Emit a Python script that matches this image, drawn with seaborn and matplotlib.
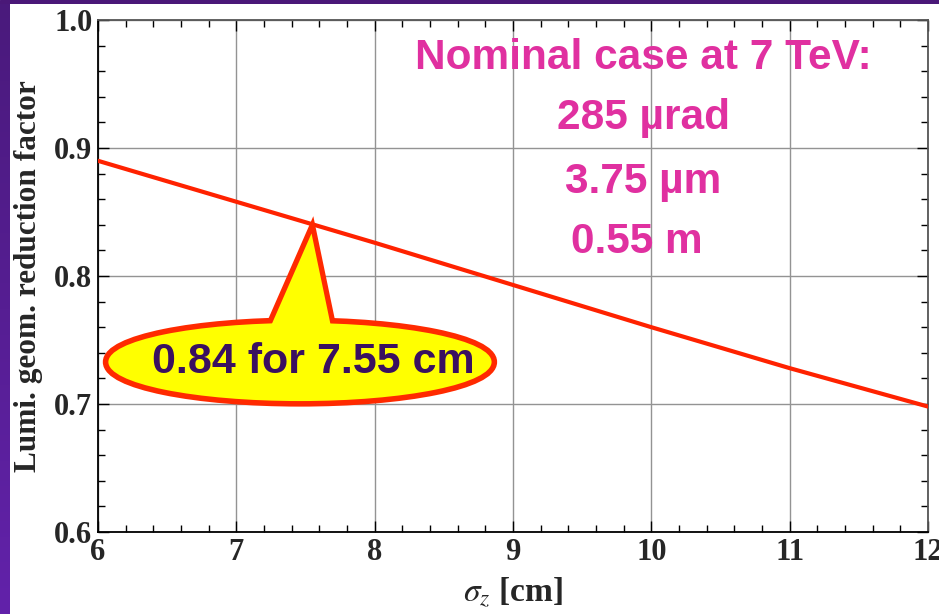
import numpy as np
import pandas as pd
import matplotlib
matplotlib.use("Agg")
import matplotlib.pyplot as plt
from matplotlib.patches import Ellipse, Polygon
from matplotlib.ticker import MultipleLocator
from matplotlib.colors import LinearSegmentedColormap
import seaborn as sns

# Geometric luminosity reduction factor versus bunch length
sigma_z = [6, 7, 8, 9, 10, 11, 12]
reduction = [0.890, 0.858, 0.826, 0.793, 0.760, 0.728, 0.698]

# Highlighted working point
point_sigma = 7.55
point_factor = 0.84
point_label = "0.84 for 7.55 cm"

# Nominal parameters
nominal_lines = ["Nominal case at 7 TeV:", "285 µrad", "3.75 µm", "0.55 m"]

x_ticks = [6, 7, 8, 9, 10, 11, 12]
y_ticks = [0.6, 0.7, 0.8, 0.9, 1.0]

sns.set_theme(style="ticks")
plt.rcParams["font.family"] = ["Liberation Serif", "DejaVu Serif"]
plt.rcParams["mathtext.fontset"] = "stix"

W, H = 939, 614
fig = plt.figure(figsize=(W / 100, H / 100), dpi=100)
fig.patch.set_facecolor("white")

# purple frame strips (top and left)
top = fig.add_axes([0, 1 - 4 / H, 1, 4 / H])
top.set_axis_off()
top.add_patch(plt.Rectangle((0, 0), 1, 1, transform=top.transAxes, color="#4a1878"))
left = fig.add_axes([0, 0, 10 / W, 1 - 4 / H])
grad = np.linspace(0, 1, 256).reshape(-1, 1)
cmap = LinearSegmentedColormap.from_list("strip", ["#6222aa", "#4a1a7c"])
left.imshow(grad, aspect="auto", cmap=cmap, origin="lower", extent=[0, 1, 0, 1])
left.set_axis_off()

ax = fig.add_axes([98 / W, 1 - 532 / H, 830 / W, 512 / H])
ax.set_facecolor("white")

df = pd.DataFrame({"sigma_z": sigma_z, "reduction": reduction})
sns.lineplot(data=df, x="sigma_z", y="reduction", ax=ax, color="#ff2200",
             linewidth=3.0, zorder=3)

ax.set_xlim(6, 12)
ax.set_ylim(0.6, 1.0)
ax.set_xticks(x_ticks)
ax.set_yticks(y_ticks)
ax.set_xticklabels([str(v) for v in x_ticks])
ax.set_yticklabels([f"{v:.1f}" for v in y_ticks])
ax.xaxis.set_minor_locator(MultipleLocator(0.2))
ax.yaxis.set_minor_locator(MultipleLocator(0.02))
ax.grid(True, which="major", color="#939393", linewidth=1.0)
ax.set_axisbelow(True)
ax.tick_params(which="both", direction="in", top=True, right=True,
               color="black", width=1.0)
ax.tick_params(which="major", length=8, labelsize=22, pad=4)
ax.tick_params(which="minor", length=5)
for lab in ax.get_xticklabels() + ax.get_yticklabels():
    lab.set_fontweight("bold")
for s in ax.spines.values():
    s.set_color("black")
    s.set_linewidth(1.3)
ax.spines["top"].set_color("#555555")
ax.spines["right"].set_color("#555555")

ax.set_xlabel(r"$\sigma_z$ [cm]", fontsize=24, fontweight="bold", labelpad=6)
ax.set_ylabel("Lumi. geom. reduction factor", fontsize=22.5, fontweight="bold",
              labelpad=8)

# callout bubble pointing at the working point
cx, cy = 7.46, 0.7328
ew, eh = 2.77, 0.061
red = "#ff2a00"
yellow = "#ffff00"
ax.add_patch(Ellipse((cx, cy), ew, eh, facecolor=yellow, edgecolor=red,
                     linewidth=8, zorder=5, clip_on=False))
base_l = (7.193, 0.752)
base_r = (7.720, 0.752)
ax.add_patch(Polygon([base_l, (point_sigma, point_factor), base_r], closed=True,
                     facecolor=yellow, edgecolor=red, linewidth=3.8,
                     joinstyle="miter", zorder=6))
ax.add_patch(Ellipse((cx, cy), ew, eh, facecolor=yellow, edgecolor="none",
                     zorder=7, clip_on=False))
ax.text(7.56, cy, point_label, ha="center", va="center", fontsize=31,
        fontweight="bold", color="#3a1060", family="Liberation Sans", zorder=8)

# nominal parameters block
pink = "#e030a0"
ys = [0.926, 0.809, 0.684, 0.566]
xs = [0.657, 0.657, 0.657, 0.649]
for t, xx, yy in zip(nominal_lines, xs, ys):
    ax.text(xx, yy, t, transform=ax.transAxes, ha="center", va="center",
            fontsize=30.5, fontweight="bold", color=pink,
            family="Liberation Sans", zorder=4)

fig.savefig("out.png", dpi=100)
